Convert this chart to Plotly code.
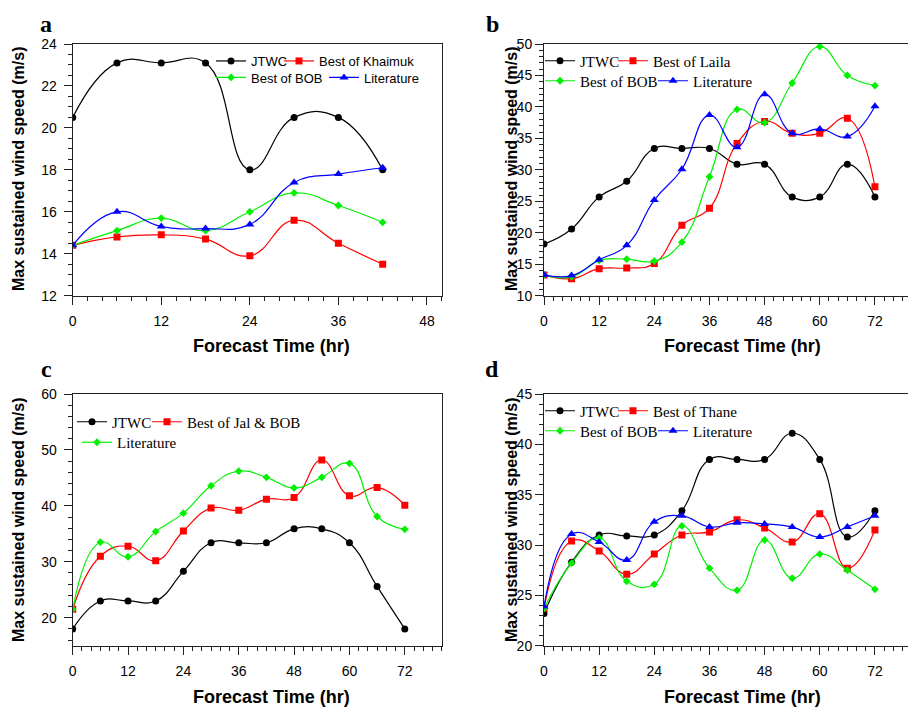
import plotly.graph_objects as go

# ---------------- data ----------------
hours_a = [0, 6, 12, 18, 24, 30, 36, 42]
jtwc_a = [20.5, 23.1, 23.1, 23.1, 18.0, 20.5, 20.5, 18.0]
best_a = [14.4, 14.8, 14.9, 14.7, 13.9, 15.6, 14.5, 13.5]
bob_a = [14.4, 15.1, 15.7, 15.1, 16.0, 16.9, 16.3, 15.5]
lit_a = [14.4, 16.0, 15.3, 15.2, 15.4, 17.4, 17.8, 18.1]

hours_b = [0, 6, 12, 18, 24, 30, 36, 42, 48, 54, 60, 66, 72]
jtwc_b = [18.2, 20.6, 25.7, 28.2, 33.4, 33.4, 33.4, 30.9, 30.9, 25.7, 25.7, 30.9, 25.7]
best_b = [13.3, 12.7, 14.3, 14.4, 15.1, 21.2, 23.9, 34.2, 37.7, 35.8, 35.8, 38.2, 27.3]
bob_b = [13.3, 13.0, 15.6, 15.8, 15.5, 18.5, 28.9, 39.6, 37.5, 43.8, 49.6, 45.0, 43.4]
lit_b = [13.3, 13.2, 15.7, 18.0, 25.2, 30.1, 38.7, 33.6, 42.0, 35.8, 36.5, 35.3, 40.1]

hours_c = [0, 6, 12, 18, 24, 30, 36, 42, 48, 54, 60, 66, 72]
jtwc_c = [18.0, 23.0, 23.0, 23.0, 28.3, 33.4, 33.4, 33.4, 35.9, 35.9, 33.4, 25.6, 18.0]
best_c = [21.5, 31.0, 32.8, 30.2, 35.5, 39.6, 39.2, 41.2, 41.5, 48.2, 41.8, 43.3, 40.1]
lit_c = [21.5, 33.5, 30.9, 35.4, 38.7, 43.6, 46.2, 45.1, 43.2, 45.1, 47.6, 38.1, 35.8]

hours_d = [0, 6, 12, 18, 24, 30, 36, 42, 48, 54, 60, 66, 72]
jtwc_d = [23.2, 28.3, 31.0, 30.9, 31.0, 33.4, 38.5, 38.5, 38.5, 41.1, 38.5, 30.8, 33.4]
best_d = [23.7, 30.4, 29.4, 27.1, 29.1, 31.0, 31.3, 32.5, 31.7, 30.3, 33.1, 27.7, 31.5]
bob_d = [23.7, 28.2, 30.7, 26.4, 26.1, 31.9, 27.7, 25.5, 30.5, 26.7, 29.1, 27.5, 25.6]
lit_d = [23.9, 31.1, 30.3, 28.5, 32.3, 32.9, 31.8, 32.2, 32.1, 31.8, 30.8, 31.8, 32.9]

panel_letters = ["a", "b", "c", "d"]
x_title = "Forecast Time (hr)"
y_title = "Max sustained wind speed (m/s)"

# ---------------- layout helpers ----------------
W, H = 916, 711
OFF = 8  # page body margin offset of the figure div


def px(x):
    return (x - OFF) / W


def py(y):
    return 1 - (y - OFF) / H


SANS = "Liberation Sans, Arial, sans-serif"
SERIF = "Liberation Serif, Times New Roman, serif"

COL = {"k": "#000000", "r": "#ff0000", "g": "#00f000", "b": "#0000ff"}
SYM = {"k": ("circle", 7), "r": ("square", 7), "g": ("diamond", 6), "b": ("triangle-up", 8)}

fig = go.Figure()

legend_layouts = {}
leg_counter = [0]


def add_series(xs, ys, name, c, axis_idx, leg_x, leg_y, leg_font):
    leg_counter[0] += 1
    lname = "legend" if leg_counter[0] == 1 else f"legend{leg_counter[0]}"
    sym, size = SYM[c]
    suffix = "" if axis_idx == 1 else str(axis_idx)
    fig.add_trace(go.Scatter(
        x=xs, y=ys, name=name, mode="lines+markers",
        line=dict(color=COL[c], width=1.2, shape="spline", smoothing=1.3),
        marker=dict(symbol=sym, size=size, color=COL[c]),
        xaxis="x" + suffix, yaxis="y" + suffix,
        legend=lname, showlegend=True,
    ))
    legend_layouts[lname] = dict(
        x=px(leg_x - 40), y=py(leg_y), xanchor="left", yanchor="middle",
        orientation="h", bgcolor="rgba(0,0,0,0)", borderwidth=0,
        font=dict(family=leg_font[0], size=leg_font[1], color="#000"),
        itemwidth=30,
    )


fa = (SANS, 13)
fs = (SERIF, 15)

# panel a
add_series(hours_a, jtwc_a, "JTWC", "k", 1, 251, 61, fa)
add_series(hours_a, best_a, "Best of Khaimuk", "r", 1, 319, 61, fa)
add_series(hours_a, bob_a, "Best of BOB", "g", 1, 251, 77.5, fa)
add_series(hours_a, lit_a, "Literature", "b", 1, 364, 77.5, fa)
# panel b
add_series(hours_b, jtwc_b, "JTWC", "k", 2, 580, 61, fs)
add_series(hours_b, best_b, "Best of Laila", "r", 2, 653, 61, fs)
add_series(hours_b, bob_b, "Best of BOB", "g", 2, 580, 81, fs)
add_series(hours_b, lit_b, "Literature", "b", 2, 693, 81, fs)
# panel c
add_series(hours_c, jtwc_c, "JTWC", "k", 3, 112, 422, fs)
add_series(hours_c, best_c, "Best of Jal & BOB", "r", 3, 187, 422, fs)
add_series(hours_c, lit_c, "Literature", "g", 3, 117, 442.5, fs)
# panel d
add_series(hours_d, jtwc_d, "JTWC", "k", 4, 580, 411, fs)
add_series(hours_d, best_d, "Best of Thane", "r", 4, 653, 411, fs)
add_series(hours_d, bob_d, "Best of BOB", "g", 4, 580, 431, fs)
add_series(hours_d, lit_d, "Literature", "b", 4, 693, 431, fs)

# plot areas in pixels: (left, right, top, bottom)
areas = {
    1: (72.7, 441.7, 44, 295.7),
    2: (544, 911.7, 44, 295.7),
    3: (72.7, 441.7, 394, 645.7),
    4: (544, 911.7, 394, 645.7),
}
xranges = {1: [0, 50], 2: [0, 80], 3: [0, 80], 4: [0, 80]}
yranges = {1: [12, 24], 2: [10, 50], 3: [15, 60], 4: [20, 45]}
ydticks = {1: 2, 2: 5, 3: 10, 4: 5}
yminor = {1: 0.5, 2: 1, 3: 2, 4: 1}
ystandoff = {1: 4, 2: 0, 3: 4, 4: 0}

axcol = "#222222"
tickfont = dict(family=SANS, size=14, color="#000")

layout = dict(
    width=W, height=H, margin=dict(l=0, r=0, t=0, b=0, autoexpand=False),
    paper_bgcolor="white", plot_bgcolor="white",
    showlegend=True,
)

for i in range(1, 5):
    l, r, t, b = areas[i]
    s = "" if i == 1 else str(i)
    common = dict(
        showline=True, linecolor=axcol, linewidth=1, mirror=True,
        ticks="outside", ticklen=8, tickwidth=1, tickcolor=axcol,
        showgrid=False, zeroline=False, tickfont=tickfont,
        automargin=False,
    )
    layout["xaxis" + s] = dict(
        domain=[px(l), px(r)], range=xranges[i], anchor="y" + s,
        tick0=0, dtick=12, ticklabelstandoff=4,
        minor=dict(ticks="outside", ticklen=4, dtick=2, tick0=0, tickcolor=axcol, tickwidth=1, showgrid=False),
        **common,
    )
    layout["yaxis" + s] = dict(
        domain=[py(b), py(t)], range=yranges[i], anchor="x" + s,
        tick0=0, dtick=ydticks[i], ticklabelstandoff=ystandoff[i],
        minor=dict(ticks="outside", ticklen=4, dtick=yminor[i], tick0=0, tickcolor=axcol, tickwidth=1, showgrid=False),
        **common,
    )

layout.update(legend_layouts)

annotations = []
letter_pos = {1: (46, 24), 2: (492, 24), 3: (46, 369), 4: (492, 369)}
ytitle_pos = {1: (18, 169), 2: (511, 169), 3: (18, 520), 4: (511, 520)}
xtitle_pos = {1: (271, 346), 2: (742, 346), 3: (271, 697), 4: (742, 697)}
for i in range(1, 5):
    lx, ly = letter_pos[i]
    annotations.append(dict(
        text="<b>%s</b>" % panel_letters[i - 1], x=px(lx), y=py(ly), xref="paper", yref="paper",
        showarrow=False, xanchor="center", yanchor="middle",
        font=dict(family=SERIF, size=24, color="#000"),
    ))
    tx, ty = ytitle_pos[i]
    annotations.append(dict(
        text="<b>%s</b>" % y_title, x=px(tx), y=py(ty), xref="paper", yref="paper",
        showarrow=False, xanchor="center", yanchor="middle", textangle=-90,
        font=dict(family=SANS, size=16, color="#000"),
    ))
    xx, xy = xtitle_pos[i]
    annotations.append(dict(
        text="<b>%s</b>" % x_title, x=px(xx), y=py(xy), xref="paper", yref="paper",
        showarrow=False, xanchor="center", yanchor="middle",
        font=dict(family=SANS, size=18, color="#000"),
    ))
layout["annotations"] = annotations

fig.update_layout(**layout)
fig.write_html("out.html")
